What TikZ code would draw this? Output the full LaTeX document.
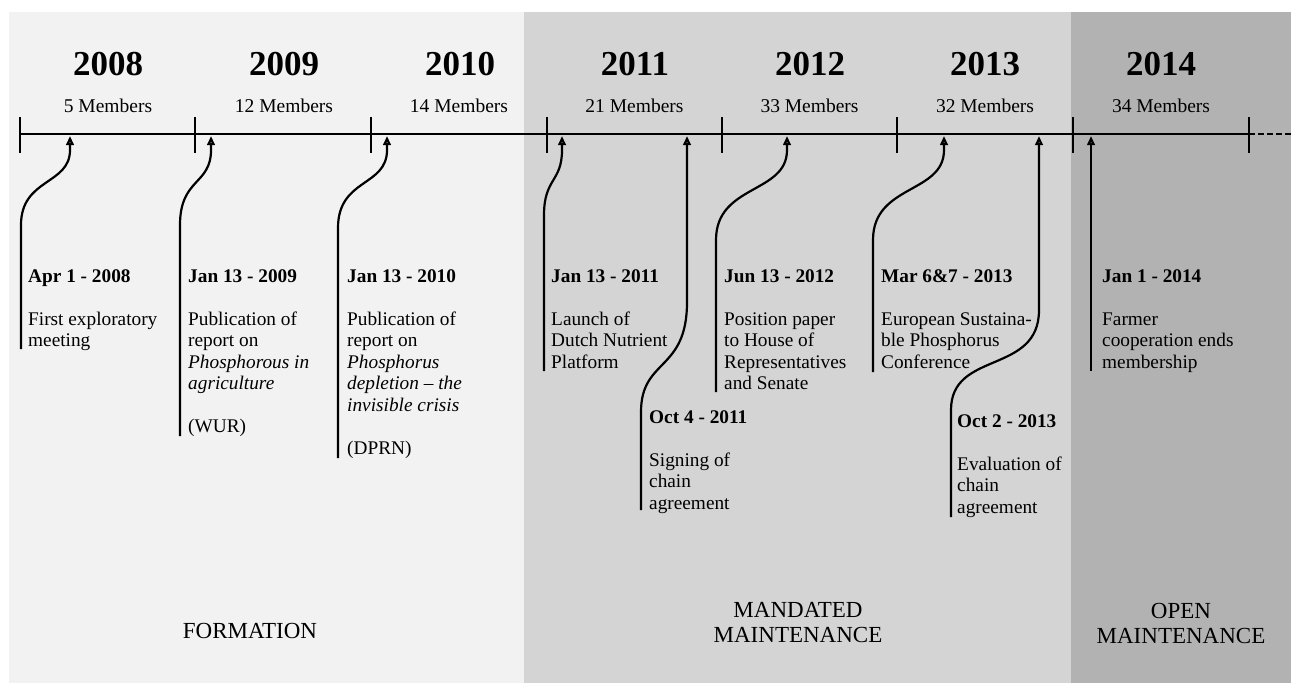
\documentclass[tikz,border=0pt]{standalone}
\usepackage{fontspec}
\setmainfont{Liberation Serif}
\usetikzlibrary{arrows.meta}
\definecolor{formbg}{HTML}{F2F2F2}
\definecolor{mandbg}{HTML}{D4D4D4}
\definecolor{openbg}{HTML}{B2B2B2}
\newcommand\evbox[1]{\parbox[t]{170pt}{\raggedright #1}}
\begin{document}
\begin{tikzpicture}[x=1pt,y=-1pt,
  yearlbl/.style={inner sep=0pt, anchor=base, font=\fontsize{35}{40}\selectfont\bfseries},
  memlbl/.style={inner sep=0pt, anchor=base, font=\fontsize{19.5}{22}\selectfont},
  evtxt/.style={inner sep=0pt, anchor=base west, font=\fontsize{19.3}{21.5}\selectfont},
  phaselbl/.style={inner sep=0pt, align=center, font=\fontsize{23}{25}\selectfont},
  tline/.style={line width=2.8pt},
  tickmark/.style={line width=2.2pt},
  evline/.style={line width=2.2pt, -{Triangle[open,length=9pt,width=7.5pt]}}
]
\useasboundingbox (0,0) rectangle (1292,683);
\fill[white] (0,0) rectangle (1292,683);
% phase backgrounds
\fill[formbg] (9,12) rectangle (524,683);
\fill[mandbg] (524,12) rectangle (1071,683);
\fill[openbg] (1071,12) rectangle (1291,683);

% years and members
\node[yearlbl] (y2008) at (108,75) {2008};
\node[yearlbl] (y2009) at (284,75) {2009};
\node[yearlbl] (y2010) at (460,75) {2010};
\node[yearlbl] (y2011) at (635,75) {2011};
\node[yearlbl] (y2012) at (810,75) {2012};
\node[yearlbl] (y2013) at (985,75) {2013};
\node[yearlbl] (y2014) at (1161,75) {2014};
\node[memlbl] (m2008) at (108,112) {5 Members};
\node[memlbl] (m2009) at (284,112) {12 Members};
\node[memlbl] (m2010) at (459,112) {14 Members};
\node[memlbl] (m2011) at (634.5,112) {21 Members};
\node[memlbl] (m2012) at (809.5,112) {33 Members};
\node[memlbl] (m2013) at (985,112) {32 Members};
\node[memlbl] (m2014) at (1161,112) {34 Members};

% timeline
\coordinate (tl0) at (20,134);
\coordinate (tlend) at (1249,134);
\coordinate (tldash) at (1291,134);
\draw[tline] (tl0) -- (tlend);
\draw[line width=2pt, dash pattern=on 6pt off 3pt] (tlend) -- (tldash);
\foreach \i/\x in {0/20,1/195,2/371,3/547,4/722,5/897,6/1073,7/1249}{
  \coordinate (tkt\i) at (\x,117);
  \coordinate (tkb\i) at (\x,153);
  \draw[tickmark] (tkt\i) -- (tkb\i);
}

% event texts
\node[evtxt] (e1) at (28,282) {\evbox{\textbf{Apr 1 - 2008}\\[21.5pt]First exploratory\\meeting}};
\node[evtxt] (e2) at (188,282) {\evbox{\textbf{Jan 13 - 2009}\\[21.5pt]Publication of\\report on\\\textit{Phosphorous in}\\\textit{agriculture}\\[21.5pt](WUR)}};
\node[evtxt] (e3) at (347,282) {\evbox{\textbf{Jan 13 - 2010}\\[21.5pt]Publication of\\report on\\\textit{Phosphorus}\\\textit{depletion – the}\\\textit{invisible crisis}\\[21.5pt](DPRN)}};
\node[evtxt] (e4) at (551,282) {\evbox{\textbf{Jan 13 - 2011}\\[21.5pt]Launch of\\Dutch Nutrient\\Platform}};
\node[evtxt] (e5) at (649,423) {\evbox{\textbf{Oct 4 - 2011}\\[21.5pt]Signing of\\chain\\agreement}};
\node[evtxt] (e6) at (724,282) {\evbox{\textbf{Jun 13 - 2012}\\[21.5pt]Position paper\\to House of\\Representatives\\and Senate}};
\node[evtxt] (e7) at (881,282) {\evbox{\textbf{Mar 6\&7 - 2013}\\[21.5pt]European Sustaina-\\ble Phosphorus\\Conference}};
\node[evtxt] (e8) at (957,427) {\evbox{\textbf{Oct 2 - 2013}\\[21.5pt]Evaluation of\\chain\\agreement}};
\node[evtxt] (e9) at (1102,282) {\evbox{\textbf{Jan 1 - 2014}\\[21.5pt]Farmer\\cooperation ends\\membership}};

% connector ends
\coordinate (t1) at (70,136);   \coordinate (f1) at (21,349);
\coordinate (t2) at (211,136);  \coordinate (f2) at (180,436);
\coordinate (t3) at (387,136);  \coordinate (f3) at (338,458);
\coordinate (t4) at (562,136);  \coordinate (f4) at (544,371);
\coordinate (t5) at (687,136);  \coordinate (f5) at (641,510);
\coordinate (t6) at (787,136);  \coordinate (f6) at (716,392);
\coordinate (t7) at (944,136);  \coordinate (f7) at (873,372);
\coordinate (t8) at (1039,136); \coordinate (f8) at (951,517);
\coordinate (t9) at (1091,136); \coordinate (f9) at (1091,371);

\draw[evline] (f1) -- (21,225) .. controls (21,178) and (70,185) .. (70,150) -- (t1);
\draw[evline] (f2) -- (180,225) .. controls (180,178) and (211,185) .. (211,150) -- (t2);
\draw[evline] (f3) -- (338,228) .. controls (338,178) and (387,187) .. (387,150) -- (t3);
\draw[evline] (f4) -- (544,215) .. controls (544,178) and (562,182) .. (562,150) -- (t4);
\draw[evline] (f5) -- (641,412) .. controls (641,358) and (687,372) .. (687,302) -- (t5);
\draw[evline] (f6) -- (716,240) .. controls (716,184) and (787,194) .. (787,150) -- (t6);
\draw[evline] (f7) -- (873,240) .. controls (873,184) and (944,194) .. (944,150) -- (t7);
\draw[evline] (f8) -- (951,410) .. controls (951,350) and (1039,375) .. (1039,310) -- (t8);
\draw[evline] (f9) -- (t9);

% phase labels
\node[phaselbl] (pform) at (250,631) {FORMATION};
\node[phaselbl] (pmand) at (798,623) {MANDATED\\MAINTENANCE};
\node[phaselbl] (popen) at (1181,623) {OPEN\\MAINTENANCE};
\end{tikzpicture}
\end{document}
